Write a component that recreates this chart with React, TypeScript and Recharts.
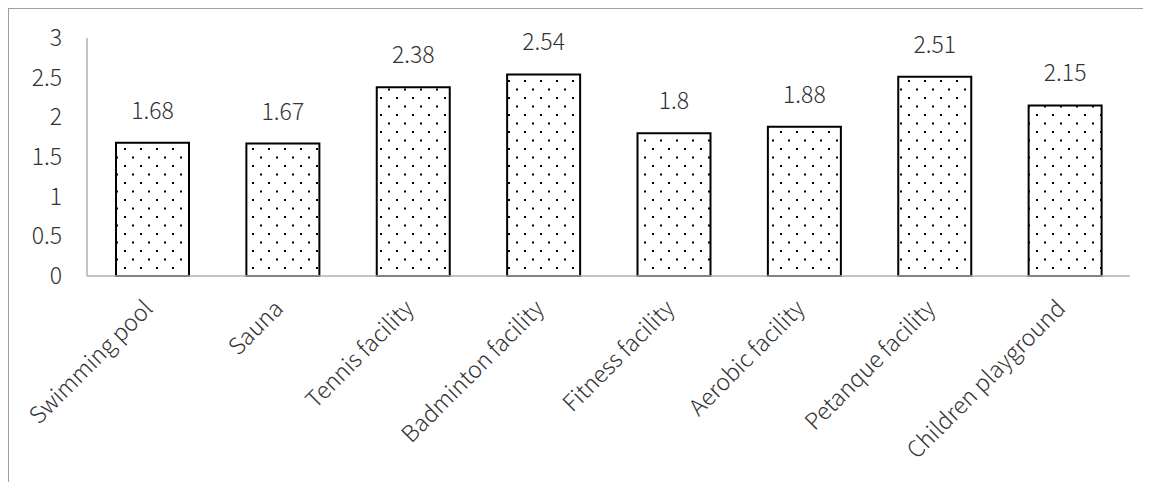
import React from "react";
import { BarChart, Bar, XAxis, YAxis, LabelList } from "recharts";

const categories = [
  "Swimming pool",
  "Sauna",
  "Tennis facility",
  "Badminton facility",
  "Fitness facility",
  "Aerobic facility",
  "Petanque facility",
  "Children playground",
];
const values = [1.68, 1.67, 2.38, 2.54, 1.8, 1.88, 2.51, 2.15];
const yTicks = [0, 0.5, 1, 1.5, 2, 2.5, 3];

const data = categories.map((name, i) => ({ name, value: values[i] }));

const FONT = "'Noto Sans CJK JP', 'Noto Sans', sans-serif";
const TEXT = "#333333";
const FS = 23;

const XTick = (props: any) => {
  const { x, y, payload } = props;
  const ax = x + 2;
  const ay = y + 34;
  return (
    <text
      x={ax}
      y={ay}
      transform={`rotate(-45 ${ax} ${ay})`}
      textAnchor="end"
      fontSize={FS}
      fontWeight={300}
      fill={TEXT}
      fontFamily={FONT}
    >
      {payload.value}
    </text>
  );
};

export default function App() {
  return (
    <div
      style={{
        width: 1143,
        height: 474,
        borderTop: "1px solid #a0a0a0",
        borderLeft: "1px solid #a0a0a0",
        fontFamily: FONT,
        fontWeight: 300,
        position: "relative",
      }}
    >
      <svg width={0} height={0} style={{ position: "absolute" }}>
        <defs>
          <pattern id="dots" width={16} height={17} patternUnits="userSpaceOnUse">
            <rect x={0} y={0} width={16} height={17} fill="#ffffff" />
            <rect x={3} y={3} width={2} height={2} fill="#000000" />
            <rect x={11} y={11.5} width={2} height={2} fill="#000000" />
          </pattern>
        </defs>
      </svg>
      <BarChart
        width={1142}
        height={473}
        data={data}
        margin={{ top: 29, right: 21, left: 18, bottom: 6 }}
      >
        <XAxis
          dataKey="name"
          height={200}
          interval={0}
          tickLine={false}
          tickSize={0}
          tickMargin={0}
          axisLine={{ stroke: "#b0b0b0", strokeWidth: 1.5 }}
          tick={<XTick />}
        />
        <YAxis
          width={60}
          domain={[0, 3]}
          ticks={yTicks}
          interval={0}
          tickLine={false}
          tickSize={0}
          tickMargin={25}
          axisLine={{ stroke: "#b0b0b0", strokeWidth: 1.5 }}
          tick={{ fontSize: FS, fill: TEXT, fontFamily: FONT, fontWeight: 300 }}
        />
        <Bar
          dataKey="value"
          barSize={73}
          fill="url(#dots)"
          stroke="#000000"
          strokeWidth={2}
          isAnimationActive={false}
        >
          <LabelList
            dataKey="value"
            position="top"
            offset={24}
            fill={TEXT}
            fontSize={FS}
            fontWeight={300}
            fontFamily={FONT}
          />
        </Bar>
      </BarChart>
    </div>
  );
}
